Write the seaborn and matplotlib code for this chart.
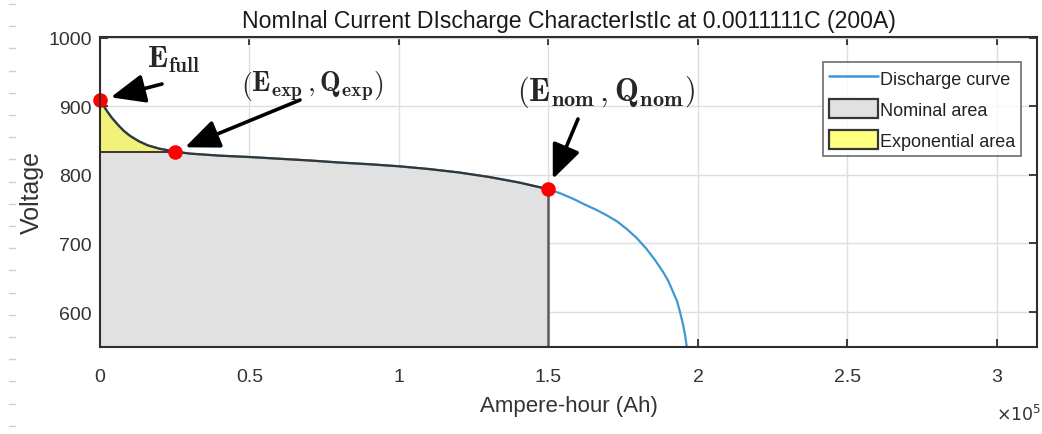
import numpy as np
import pandas as pd
import matplotlib
matplotlib.use("Agg")
import matplotlib.pyplot as plt
from matplotlib.ticker import FuncFormatter, FixedLocator
from matplotlib.lines import Line2D
from matplotlib.patches import Patch
import seaborn as sns

# Discharge curve: extracted charge (Ah) and terminal voltage (V)
charge_ah = [0, 1000, 2500, 4000, 6000, 8000, 10000, 13000, 16000, 20000,
             25000, 30000, 40000, 50000, 60000, 70000, 80000, 90000, 100000,
             110000, 120000, 130000, 140000, 150000, 154000, 158300, 162000,
             166000, 169500, 173000, 176200, 179500, 182800, 185600, 188400,
             190000, 191700, 193000, 194000, 195000, 195700, 196200, 196400]
voltage_v = [909, 902, 892, 883, 873, 864, 857, 849, 843, 838,
             834, 831, 828, 826, 823.5, 821, 818, 815.5, 812.5,
             808.5, 803.5, 797, 789, 779, 773, 765, 757,
             749, 741, 732, 721, 708, 692, 676, 658,
             646, 629, 616, 600, 582, 566, 551, 545]

# Characteristic points
q_full, q_exp, q_nom = 0, 25000, 150000

x_ticks = [0, 50000, 100000, 150000, 200000, 250000, 300000]
y_ticks = [600, 700, 800, 900, 1000]

title_text = "NomInal Current DIscharge CharacterIstIc at 0.0011111C (200A)"
x_label = "Ampere-hour (Ah)"
y_label = "Voltage"
legend_labels = ["Discharge curve", "Nominal area", "Exponential area"]

df = pd.DataFrame({"Q": charge_ah, "V": voltage_v})
v_at = dict(zip(charge_ah, voltage_v))
e_full, e_exp, e_nom = v_at[q_full], v_at[q_exp], v_at[q_nom]

sns.set_theme(style="whitegrid")
plt.rcParams["font.family"] = ["Liberation Sans", "DejaVu Sans"]
plt.rcParams["mathtext.fontset"] = "cm"

W, H = 1042, 435
fig = plt.figure(figsize=(W / 100, H / 100), dpi=100)
ax = fig.add_axes([100 / W, 87 / H, 937 / W, 310 / H])
ax.set_facecolor("white")

blue = "#3f97d3"
edge = "#363636"
gray_fill = "#e1e1e1"
yellow_fill = "#f2f27a"

# discharge curve
sns.lineplot(data=df, x="Q", y="V", ax=ax, color=blue, lw=1.6, zorder=3)

# nominal area (under the curve up to Q_nom, capped at E_exp in the exponential zone)
nom = df[df.Q <= q_nom]
top = np.minimum(nom.V.values, e_exp)
ax.fill_between(nom.Q, 500, top, color=gray_fill, lw=0, zorder=2)
ax.plot(nom.Q[nom.Q >= q_exp], nom.V[nom.Q >= q_exp], color=edge, lw=1.6, zorder=4)
ax.plot([q_nom, q_nom], [500, e_nom], color="#5a5a5a", lw=1.8, zorder=4)

# exponential area
ex = df[df.Q <= q_exp]
ax.fill_between(ex.Q, e_exp, ex.V, color=yellow_fill, lw=0, zorder=2)
ax.plot(ex.Q, ex.V, color=edge, lw=1.6, zorder=4)
ax.plot([q_full, q_exp], [e_exp, e_exp], color=edge, lw=1.4, zorder=4)

# characteristic points
ax.plot([q_full, q_exp, q_nom], [e_full, e_exp, e_nom], "o", color="#ff0000",
        ms=10.5, mec="none", zorder=6, clip_on=False)

ax.set_xlim(0, 313400)
ax.set_ylim(549, 1001)
ax.xaxis.set_major_locator(FixedLocator(x_ticks))
ax.yaxis.set_major_locator(FixedLocator(y_ticks))
ax.xaxis.set_major_formatter(FuncFormatter(lambda v, _: f"{v / 1e5:g}"))
ax.yaxis.set_major_formatter(FuncFormatter(lambda v, _: f"{v:g}"))
ax.grid(True, color="#dedede", lw=1.0)
ax.set_axisbelow(True)
for s in ax.spines.values():
    s.set_visible(True)
    s.set_color("#2e2e2e")
    s.set_linewidth(1.5)
    s.set_zorder(7)
ax.tick_params(axis="both", direction="in", length=6, width=1.3, color="#2e2e2e",
               top=True, right=True, bottom=True, left=True,
               labelsize=14, labelcolor="#333333")
ax.tick_params(axis="x", pad=15)
ax.tick_params(axis="y", pad=6)
for lbl in ax.get_yticklabels():
    lbl.set_va("center_baseline")

ax.set_xlabel(x_label, fontsize=16, color="#333333", labelpad=7)
ax.set_ylabel(y_label, fontsize=18, color="#333333", labelpad=3)
ax.set_title(title_text, fontsize=16.6, color="#1a1a1a", pad=7)

# exponent of the x axis, written below the right end of the axis
fig.text(996 / W, 1 - 421 / H, r"$\times10^5$", fontsize=12.5, color="#333333",
         math_fontfamily="dejavusans", ha="left", va="baseline")

# faint dashed guide along the left margin
for yy in np.arange(5, H, 22.2):
    fig.add_artist(Line2D([9 / W, 15 / W], [1 - yy / H, 1 - yy / H],
                          color="#cfcfcf", lw=1.0, transform=fig.transFigure))

# legend
handles = [Line2D([], [], color=blue, lw=1.8),
           Patch(facecolor=gray_fill, edgecolor=edge, lw=1.6),
           Patch(facecolor="#ffff80", edgecolor=edge, lw=1.6)]
leg = ax.legend(handles, legend_labels, loc="upper right", bbox_to_anchor=(0.983, 0.919),
                fontsize=13, frameon=True, fancybox=False, handlelength=2.7,
                handleheight=1.25, handletextpad=0.1, borderpad=0.35, labelspacing=0.62,
                borderaxespad=0.0)
leg.get_frame().set_edgecolor("#555555")
leg.get_frame().set_linewidth(1.3)
for t in leg.get_texts():
    t.set_color("#222222")

# annotations
arrow = dict(arrowstyle="-|>,head_length=0.95,head_width=0.4", color="black",
             lw=2.6, shrinkA=0, shrinkB=8, mutation_scale=22)
fig.text(174 / W, 1 - 60 / H, r"$\mathbf{E_{full}}$", fontsize=22,
         ha="center", va="center")
ax.annotate("", xy=(q_full, e_full), xytext=(162, H - 85), textcoords="figure pixels",
            arrowprops=arrow, zorder=8)
fig.text(312 / W, 1 - 86 / H,
         r"$\left(\mathbf{E_{exp}}\,,\mathbf{Q_{exp}}\right)$", fontsize=20,
         ha="center", va="center")
ax.annotate("", xy=(q_exp, e_exp), xytext=(300, H - 101), textcoords="figure pixels",
            arrowprops=arrow, zorder=8)
fig.text(606 / W, 1 - 92 / H,
         r"$\left(\mathbf{E_{nom}}\,,\mathbf{Q_{nom}}\right)$", fontsize=23,
         ha="center", va="center")
ax.annotate("", xy=(q_nom, e_nom), xytext=(578, H - 120), textcoords="figure pixels",
            arrowprops=arrow, zorder=8)

fig.savefig("out.png", dpi=100, facecolor="white")
